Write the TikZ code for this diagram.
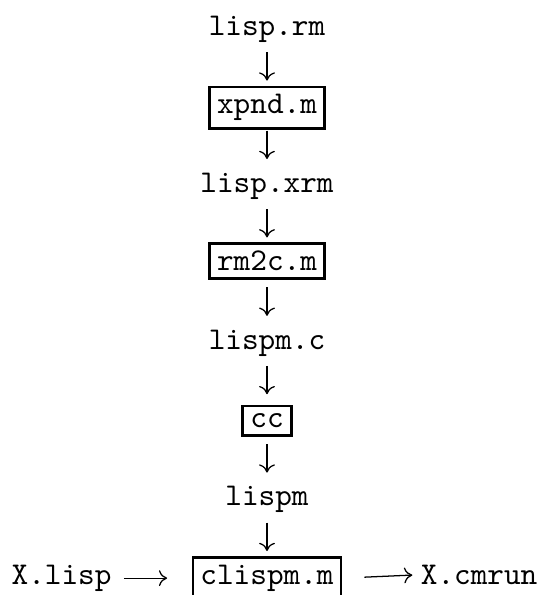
\documentclass[tikz,border=0pt]{standalone}
\usepackage{tikz}
\usetikzlibrary{arrows.meta}

\begin{document}
\begin{tikzpicture}[x=0.3155pt, y=-0.3155pt,
    file/.style={font=\ttfamily, inner sep=0pt},
    prog/.style={draw, line width=0.8pt, font=\ttfamily, inner sep=2.4pt},
    flow/.style={-{To[length=2.6pt, width=5pt]}, line width=0.4pt},
    down/.style={flow, shorten <=5.3pt, shorten >=10.5pt}]
    \useasboundingbox (0,0) rectangle (541,595);
    % --- Main column ---
    \node[file, anchor=base] (lisprm)  at (267, 35.5)  {lisp.rm};
    \node[prog, anchor=base] (xpnd)    at (267, 113.9) {xpnd.m};
    \node[file, anchor=base] (lispxrm) at (267, 192.3) {lisp.xrm};
    \node[prog, anchor=base] (rmtoc)   at (267, 270.7) {rm2c.m};
    \node[file, anchor=base] (lispmc)  at (267, 349.1) {lispm.c};
    \node[prog, anchor=base] (cc)      at (267, 427.5) {cc};
    \node[file, anchor=base] (lispm)   at (267, 505.9) {lispm};
    \node[prog, anchor=base] (clispm)  at (267, 584.3) {clispm.m};
    % --- Bottom row ---
    \node[file, anchor=base west] (xlisp)  at (11, 584.3)  {X.lisp};
    \node[file, anchor=base east] (xcmrun) at (538, 584.3) {X.cmrun};
    % Arrows
    \draw[down] (lisprm.base)  -- (xpnd.base);
    \draw[down] (xpnd.base)    -- (lispxrm.base);
    \draw[down] (lispxrm.base) -- (rmtoc.base);
    \draw[down] (rmtoc.base)   -- (lispmc.base);
    \draw[down] (lispmc.base)  -- (cc.base);
    \draw[down] (cc.base)      -- (lispm.base);
    \draw[down] (lispm.base)   -- (clispm.base);
    \draw[flow, shorten <=3.7pt, shorten >=7.7pt] (xlisp.east) -- (clispm.west);
    \draw[flow, shorten <=6.9pt, shorten >=2.5pt] (clispm.east) -- (xcmrun.west);
\end{tikzpicture}
\end{document}
